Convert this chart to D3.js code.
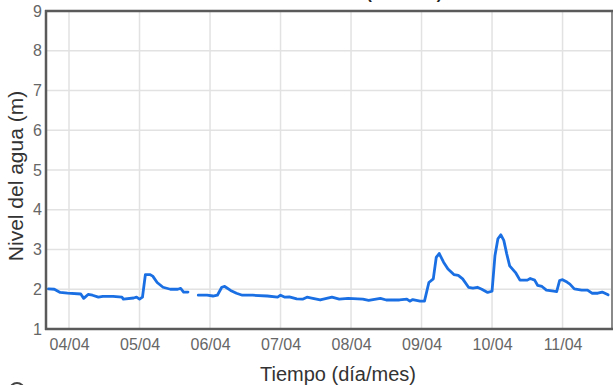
<!DOCTYPE html>
<html>
<head>
<meta charset="utf-8">
<script src="https://cdn.jsdelivr.net/npm/d3@7"></script>
<style>
  html, body { margin: 0; padding: 0; background: #fff; overflow: hidden; }
  svg { display: block; font-family: "Liberation Sans", Arial, sans-serif; }
</style>
</head>
<body>
<svg id="chart" width="614" height="385"></svg>
<script>
// ---- data ----
const times = [
  "03/04 17:00","03/04 19:00","03/04 21:00","03/04 23:30","04/04 04:00","04/04 05:00","04/04 06:30",
  "04/04 08:00","04/04 10:00","04/04 11:30","04/04 15:00","04/04 18:00","04/04 18:30","04/04 22:00",
  "04/04 23:00","05/04 00:00","05/04 01:00","05/04 02:00","05/04 03:30","05/04 04:30","05/04 06:00",
  "05/04 08:00","05/04 10:30","05/04 13:00","05/04 14:00","05/04 15:00","05/04 16:30",
  "05/04 18:00",
  "05/04 20:00","05/04 23:00","06/04 01:00","06/04 02:30","06/04 04:00","06/04 05:00","06/04 07:00",
  "06/04 09:00","06/04 11:00","06/04 14:30","06/04 19:30","06/04 23:00","07/04 00:00","07/04 01:30",
  "07/04 03:00","07/04 05:30","07/04 07:30","07/04 09:00","07/04 11:00","07/04 13:30","07/04 17:30",
  "07/04 20:00","07/04 23:00","08/04 04:00","08/04 06:00","08/04 10:00","08/04 12:00","08/04 16:30",
  "08/04 19:00","08/04 20:00","08/04 21:00","08/04 23:30","09/04 01:00","09/04 02:30","09/04 04:00",
  "09/04 05:00","09/04 06:00","09/04 07:30","09/04 09:00","09/04 11:00","09/04 12:30","09/04 14:00",
  "09/04 16:00","09/04 17:30","09/04 19:00","09/04 20:30","09/04 22:30","10/04 00:00","10/04 01:00",
  "10/04 02:00","10/04 03:00","10/04 04:00","10/04 05:00","10/04 06:00","10/04 08:00","10/04 09:30",
  "10/04 12:00","10/04 13:00","10/04 14:30","10/04 15:30","10/04 17:00","10/04 18:30","10/04 21:00",
  "10/04 22:00","10/04 23:00","11/04 00:00","11/04 01:30","11/04 02:30","11/04 04:00","11/04 06:30",
  "11/04 08:30","11/04 10:00","11/04 12:00","11/04 13:30","11/04 15:30"
];
const levels = [
  2.01,2.00,1.92,1.90,1.88,1.77,1.87,
  1.85,1.80,1.82,1.82,1.80,1.75,1.78,
  1.80,1.75,1.80,2.37,2.37,2.33,2.17,
  2.05,2.00,2.00,2.02,1.93,1.93,
  null,
  1.85,1.85,1.83,1.85,2.05,2.07,1.97,
  1.90,1.85,1.85,1.83,1.80,1.85,1.80,
  1.81,1.76,1.75,1.80,1.77,1.73,1.80,
  1.75,1.77,1.75,1.72,1.77,1.73,1.73,
  1.75,1.70,1.74,1.70,1.70,2.17,2.26,
  2.80,2.90,2.68,2.51,2.37,2.35,2.26,
  2.05,2.03,2.05,2.00,1.92,1.95,2.85,
  3.27,3.37,3.23,2.89,2.59,2.42,2.23,
  2.23,2.27,2.23,2.10,2.07,1.98,1.95,
  1.94,2.22,2.24,2.18,2.13,2.01,1.98,
  1.98,1.90,1.90,1.93,1.86
];
const yTicks = [1,2,3,4,5,6,7,8,9];
const xDomain = ["03/04 16:10","11/04 16:50"];
const titleText = "Nivel del río (m s.n.m.)";
const xLabel = "Tiempo (día/mes)";
const yLabel = "Nivel del agua (m)";

// ---- drawing ----
const parse = d3.timeParse("%d/%m %H:%M");
const data = times.map((t, i) => ({ t: parse(t), v: levels[i] }));

const svg = d3.select("#chart");
const L = 46, R = 612, T = 11, B = 329;

const x = d3.scaleTime().domain(xDomain.map(parse)).range([L, R]);
const y = d3.scaleLinear().domain([1, 9]).range([B, T]);
const dayTicks = x.ticks(d3.timeDay.every(1));

// grid
svg.append("g").selectAll("line").data(dayTicks).join("line")
  .attr("x1", d => x(d)).attr("x2", d => x(d))
  .attr("y1", T).attr("y2", B)
  .attr("stroke", "#e2e2e2").attr("stroke-width", 1.5);
svg.append("g").selectAll("line").data(yTicks).join("line")
  .attr("x1", L).attr("x2", R)
  .attr("y1", d => y(d)).attr("y2", d => y(d))
  .attr("stroke", "#e2e2e2").attr("stroke-width", 1.5);

// axes (labels only)
const xAxis = svg.append("g").attr("transform", `translate(0,${B})`)
  .call(d3.axisBottom(x).tickValues(dayTicks).tickFormat(d3.timeFormat("%d/%m")).tickSize(0).tickPadding(10));
xAxis.select(".domain").remove();
xAxis.selectAll("text").attr("font-size", 16).attr("fill", "#666")
  .attr("font-family", "Liberation Sans, Arial, sans-serif");

const yAxis = svg.append("g").attr("transform", `translate(${L},0)`)
  .call(d3.axisLeft(y).tickValues(yTicks).tickFormat(d3.format("d")).tickSize(0).tickPadding(4));
yAxis.select(".domain").remove();
yAxis.selectAll("text").attr("font-size", 16).attr("fill", "#666")
  .attr("font-family", "Liberation Sans, Arial, sans-serif");

// line
const line = d3.line()
  .defined(d => d.v !== null)
  .x(d => x(d.t)).y(d => y(d.v))
  .curve(d3.curveLinear);
svg.append("path").datum(data)
  .attr("d", line)
  .attr("fill", "none")
  .attr("stroke", "#1a6fe3")
  .attr("stroke-width", 2.8)
  .attr("stroke-linejoin", "round")
  .attr("stroke-linecap", "round");

// frame
svg.append("line").attr("x1", R).attr("x2", R).attr("y1", T).attr("y2", B)
  .attr("stroke", "#8a8a8a").attr("stroke-width", 2);
svg.append("line").attr("x1", L - 1).attr("x2", R + 1).attr("y1", T).attr("y2", T)
  .attr("stroke", "#5a5a5a").attr("stroke-width", 2.5);
svg.append("line").attr("x1", L - 1).attr("x2", R + 1).attr("y1", B).attr("y2", B)
  .attr("stroke", "#5a5a5a").attr("stroke-width", 2.5);
svg.append("line").attr("x1", L).attr("x2", L).attr("y1", T - 1).attr("y2", B + 1)
  .attr("stroke", "#5a5a5a").attr("stroke-width", 2.5);

// titles
svg.append("text").attr("x", 442).attr("y", -1.5)
  .attr("text-anchor", "end").attr("font-size", 16).attr("font-weight", "bold")
  .attr("fill", "#222").text(titleText);
svg.append("text").attr("x", 338).attr("y", 381)
  .attr("text-anchor", "middle").attr("font-size", 20).attr("fill", "#333").text(xLabel);
svg.append("text").attr("transform", "translate(23,176) rotate(-90)")
  .attr("text-anchor", "middle").attr("font-size", 21).attr("fill", "#333").text(yLabel);

// partial legend symbol at bottom-left
svg.append("circle").attr("cx", 17).attr("cy", 390).attr("r", 7)
  .attr("fill", "none").attr("stroke", "#444").attr("stroke-width", 2);
</script>
</body>
</html>
